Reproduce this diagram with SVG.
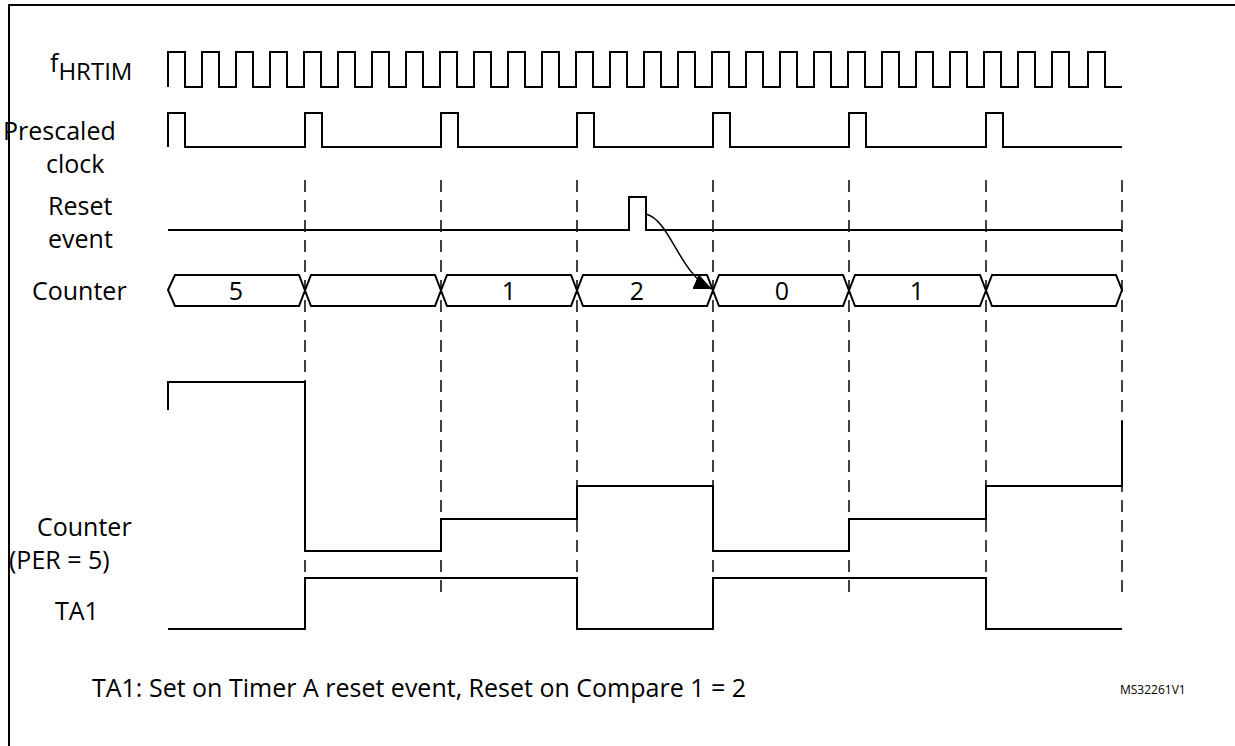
<svg xmlns="http://www.w3.org/2000/svg" width="1235" height="746" viewBox="0 0 1235 746">
<style>
.w{fill:none;stroke:#000;stroke-width:2}
.d{fill:none;stroke:#000;stroke-width:1.5;stroke-dasharray:12,8}
.t{font-family:"Open Sans","Liberation Sans",Arial,sans-serif;font-size:25px;fill:#000}
</style>
<defs><marker id="ah" markerWidth="20" markerHeight="16" refX="18" refY="8" orient="auto" markerUnits="userSpaceOnUse"><path d="M0,0L18,8L0,16Z" fill="#000"/></marker></defs>
<rect x="9" y="5" width="1240" height="750" fill="#fff" stroke="#000" stroke-width="2"/>
<g id="labels">
<text class="t" x="50" y="72">f<tspan font-size="24" dy="8">HRTIM</tspan></text>
<text class="t" x="3" y="140">Prescaled</text>
<text class="t" x="46" y="173">clock</text>
<text class="t" x="48" y="215">Reset</text>
<text class="t" x="48" y="248">event</text>
<text class="t" x="32" y="300">Counter</text>
<text class="t" x="37" y="536">Counter</text>
<text class="t" x="9" y="569">(PER = 5)</text>
<text class="t" x="55" y="620">TA1</text>
<text class="t" x="92" y="697">TA1: Set on Timer A reset event, Reset on Compare 1 = 2</text>
<text x="1120" y="694" font-family="Open Sans,Liberation Sans,Arial,sans-serif" font-size="12">MS32261V1</text>
</g>
<g id="grid">
<path class="d" d="M305,180V600M441,180V600M577,180V600M713,180V600M849,180V600M986,180V600M1122,180V600"/>
</g>
<g id="fhrtim"><path class="w" d="M168,87V52H185V87H202V52H219V87H236V52H253V87H270V52H287V87H304V52H321V87H338V52H355V87H372V52H389V87H406V52H423V87H440V52H457V87H474V52H491V87H508V52H525V87H542V52H559V87H576V52H593V87H610V52H627V87H644V52H661V87H678V52H695V87H712V52H729V87H746V52H763V87H780V52H797V87H814V52H831V87H848V52H865V87H882V52H899V87H916V52H933V87H950V52H967V87H984V52H1001V87H1018V52H1035V87H1052V52H1069V87H1088V52H1105V87H1122"/></g>
<g id="prescaled"><path class="w" d="M168,147V113H185V147H305V113H322V147H441V113H458V147H577V113H594V147H713V113H730V147H849V113H866V147H986V113H1003V147H1122"/></g>
<g id="reset"><path class="w" d="M168,230H629V197H646V230H1122"/></g>
<g id="counter">
<path class="w" d="M168,290L175,275H299L311,306H435L447,275H571L583,306H707L719,275H843L855,306H980L992,275H1116L1122,290L1116,306H992L980,275H855L843,306H719L707,275H583L571,306H447L435,275H311L299,306H175Z"/>
<text class="t" x="236" y="300" text-anchor="middle">5</text>
<text class="t" x="509" y="300" text-anchor="middle">1</text>
<text class="t" x="637" y="300" text-anchor="middle">2</text>
<text class="t" x="782" y="300" text-anchor="middle">0</text>
<text class="t" x="917" y="300" text-anchor="middle">1</text>
</g>
<g id="connectors"><path d="M646,214C670,220 680,275 712,289" fill="none" stroke="#000" stroke-width="1.5" marker-end="url(#ah)"/></g>
<g id="counterper"><path class="w" d="M168,410V382H305V551H441V519H577V486H713V551H849V519H986V486H1122V421"/></g>
<g id="ta1"><path class="w" d="M168,629H305V578H577V629H713V578H986V629H1122"/></g>
</svg>
